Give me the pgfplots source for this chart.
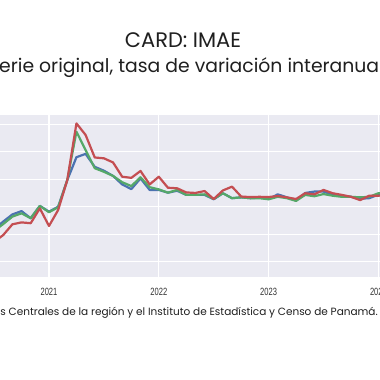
\documentclass[border=0pt]{standalone}
\usepackage{pgfplots}
\usepackage{pgfplotstable}
\pgfplotsset{compat=1.18}
\usepackage{fontspec}
\setmainfont{Poppins}
\newfontfamily\tickfont[FakeStretch=0.72]{Liberation Sans}
\definecolor{sbblue}{HTML}{4C72B0}
\definecolor{sbgreen}{HTML}{55A868}
\definecolor{sbred}{HTML}{C44E52}
\definecolor{sbbg}{HTML}{EAEAF2}
\pgfplotstableread{
m red blue green
-6 -12.8 -8.1 -8.8
-5 -10.3 -5.4 -6.3
-4 -6.4 -2.8 -3.6
-3 -5.7 -1.6 -2.4
-2 -6.0 -4.2 -4.2
-1 -0.6 0.3 0.3
0 -7.0 -1.8 -2.0
1 -1.2 0.0 -0.2
2 9.7 9.7 9.7
3 30.3 18.0 27.3
4 26.1 19.2 20.6
5 17.9 14.5 14.0
6 17.6 13.1 12.7
7 16.1 11.2 11.2
8 10.9 8.1 8.9
9 10.5 6.4 7.5
10 13.0 10.3 10.7
11 8.1 6.1 7.1
12 10.9 6.1 6.3
13 6.9 5.1 5.1
14 6.7 5.8 6.1
15 5.2 4.3 4.3
16 5.0 4.3 4.3
17 5.7 4.3 4.5
18 2.8 2.7 2.8
19 5.9 4.9 4.9
20 7.3 3.1 3.1
21 3.7 3.4 3.4
22 3.5 3.1 3.1
23 3.6 3.3 3.1
24 3.5 2.8 2.7
25 3.9 4.5 3.6
26 3.4 3.4 3.1
27 2.8 2.3 2.1
28 4.9 5.0 4.3
29 4.5 5.5 3.8
30 6.1 5.5 4.6
31 4.9 4.3 4.0
32 4.3 4.0 3.6
33 3.6 3.6 3.6
34 2.4 2.9 3.4
35 4.0 3.1 3.6
36 4.0 4.4 4.9
37 4.2 4.5 4.8
}\imaedata
\begin{document}
\begin{tikzpicture}
\useasboundingbox (0pt,0pt) rectangle (380pt,380pt);
\clip (0pt,0pt) rectangle (380pt,380pt);
\fill[white] (0pt,0pt) rectangle (380pt,380pt);
\begin{axis}[
  at={(-20pt,103pt)}, anchor=south west,
  width=420pt, height=162pt, scale only axis,
  xmin=-7.54, xmax=38.36,
  ymin=-25.56, ymax=33.35,
  axis background/.style={fill=sbbg},
  axis line style={draw=none},
  major tick length=0pt,
  xtick={0,12,24,36},
  xticklabels={2021,2022,2023,2024},
  ytick={-20,-10,0,10,20,30},
  yticklabels={},
  grid=major,
  major grid style={white, line width=1.1pt},
  xticklabel style={font=\tickfont\fontsize{10.5}{12}\selectfont, text=black!80, anchor=base, yshift=-19pt},
  clip=true,
]
\addplot[sbblue, line width=2.2pt, line join=round] table[x=m,y=blue]{\imaedata};
\addplot[sbgreen, line width=2.2pt, line join=round] table[x=m,y=green]{\imaedata};
\addplot[sbred, line width=2.2pt, line join=round] table[x=m,y=red]{\imaedata};
\end{axis}
\node[anchor=base, text=black!88, font=\fontsize{21}{24}\selectfont] at (183pt,332pt) {CARD: IMAE};
\node[anchor=base, text=black!88, font=\fontsize{18.8}{22}\selectfont] at (186pt,307pt) {Serie original, tasa de variación interanual};
\node[anchor=base east, text=black!88, font=\fontsize{10.5}{12}\selectfont, inner sep=0pt] at (378pt,64pt) {Fuente: Elaboración propia con datos de los Bancos Centrales de la región y el Instituto de Estadística y Censo de Panamá.};
\end{tikzpicture}
\end{document}
